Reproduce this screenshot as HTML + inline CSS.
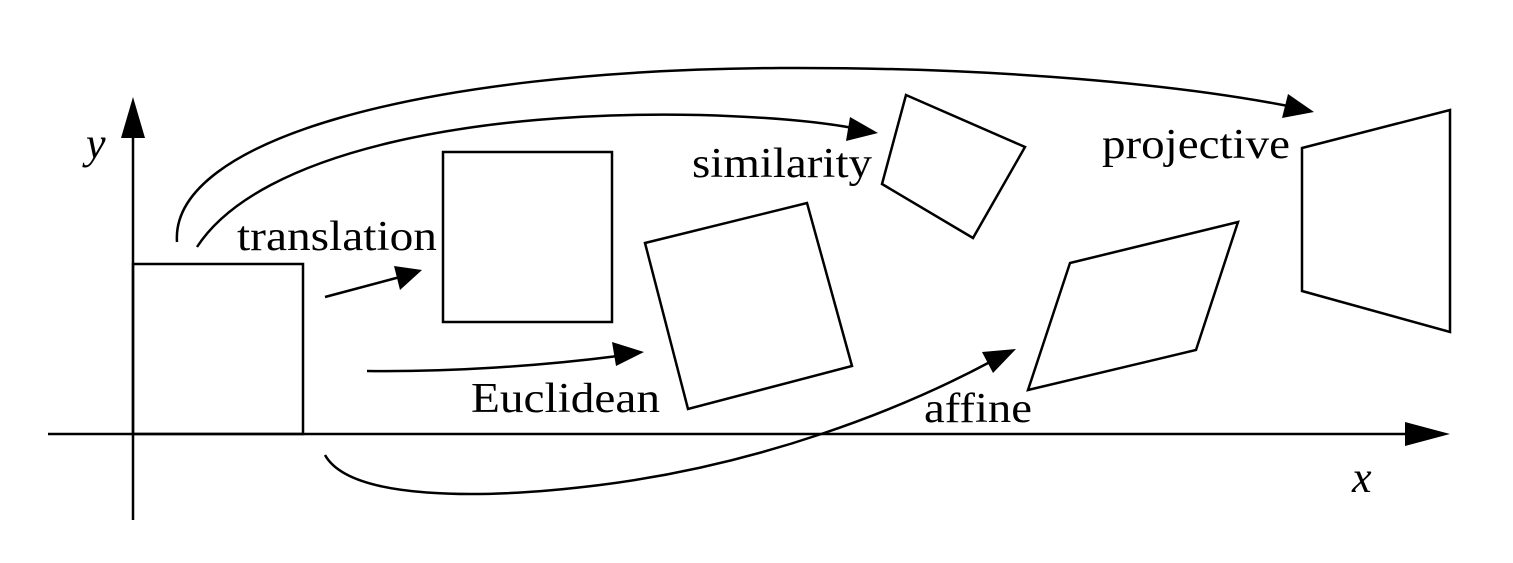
<!DOCTYPE html>
<html><head><meta charset="utf-8"><style>
html,body{margin:0;padding:0;background:#fff;}
svg{display:block;}
text{font-family:"Liberation Serif",serif;font-size:42px;fill:#000;}
</style></head><body>
<svg width="1513" height="563" viewBox="0 0 1513 563">
<g stroke="#000" stroke-width="2.5" fill="none">
<line x1="48" y1="434" x2="1415" y2="434"/>
<line x1="133" y1="520" x2="133" y2="130"/>
<rect x="133" y="264" width="170" height="170"/>
<rect x="443" y="152" width="169" height="170"/>
<polygon points="645,243 807,203 852,366 688,409"/>
<polygon points="906,95 1025,147 973,238 882,184"/>
<polygon points="1070,263 1238,222 1196,350 1028,390"/>
<polygon points="1302,148 1450,110 1450,332 1302,291"/>
<path d="M325,297 L400,277"/>
<path d="M367,371 C450,372 540,366 618,356"/>
<path d="M197,247 C260,150 480,110 700,115 C770,117 820,122 853,128"/>
<path d="M177,242 C170,140 420,70 780,68 C1000,67 1180,85 1288,106"/>
<path d="M325,455 C350,500 480,500 600,485 C760,465 900,410 990,362"/>
</g>
<g fill="#000" stroke="none">
<polygon points="1450,434 1405,422 1405,446"/>
<polygon points="133,97 121,138 145,138"/>
<polygon points="422,270 394,266 400,290"/>
<polygon points="644,352 612,342 616,366"/>
<polygon points="878,133 850,117 846,141"/>
<polygon points="1314,112 1288,94 1282,118"/>
<polygon points="1016,349 982,352 993,373"/>
</g>
<text x="86" y="158" font-style="italic" style="font-size:44px">y</text>
<text x="1352" y="492" font-style="italic" style="font-size:44px">x</text>
<text x="237" y="250" textLength="200" lengthAdjust="spacingAndGlyphs">translation</text>
<text x="692" y="177" textLength="180" lengthAdjust="spacingAndGlyphs">similarity</text>
<text x="1102" y="158" textLength="188" lengthAdjust="spacingAndGlyphs">projective</text>
<text x="471" y="412" textLength="189" lengthAdjust="spacingAndGlyphs">Euclidean</text>
<text x="924" y="422" textLength="108" lengthAdjust="spacingAndGlyphs">affine</text>
</svg>
</body></html>
